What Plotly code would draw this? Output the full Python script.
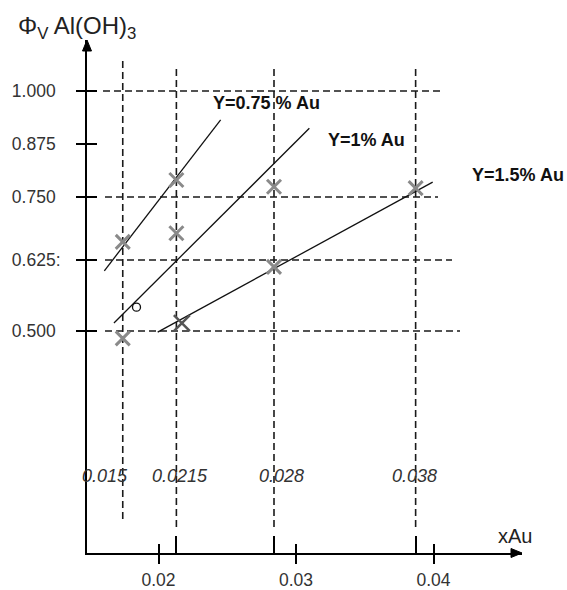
import numpy as np
import plotly.graph_objects as go

# ---------------- data ----------------
Y_TICKS = [0.500, 0.625, 0.750, 0.875, 1.000]
Y_TICK_TEXT = ["0.500\u00a0", "0.625:", "0.750\u00a0", "0.875\u00a0", "1.000\u00a0"]
X_TICKS = [0.02, 0.03, 0.04]
X_TICK_TEXT = ["0.02", "0.03", "0.04"]

GRID_X = [0.0174, 0.0213, 0.0284, 0.0387]
GRID_X_LABELS = ["0.015", "0.0215", "0.028", "0.038"]
GRID_Y = [0.500, 0.625, 0.750, 1.000]

PTS_X = [0.0174, 0.0174, 0.0213, 0.0213, 0.0284, 0.0284, 0.0387]
PTS_Y = [0.661, 0.487, 0.790, 0.678, 0.774, 0.613, 0.771]
HIGHLIGHT_X = [0.0217]
HIGHLIGHT_Y = [0.514]
CIRCLE_X = [0.0184]
CIRCLE_Y = [0.542]

LINE_075_X = [0.01606, 0.02452]
LINE_075_Y = [0.606, 0.932]
LINE_1_X = [0.01676, 0.03097]
LINE_1_Y = [0.514, 0.912]
LINE_15_X = [0.01994, 0.03994]
LINE_15_Y = [0.498, 0.785]

LINE_LABELS = ["Y=0.75 % Au", "Y=1% Au", "Y=1.5% Au"]
LINE_LABEL_X = [0.02382, 0.03216, 0.04266]
LINE_LABEL_Y = [0.972, 0.884, 0.802]

# ---------------- non-uniform y scale of the drawing ----------------
Y_SCALE = [0.5, 0.6479, 0.7792, 0.8896, 1.0]   # drawn level of each tick value


def ys(v):
    v = np.asarray(v, dtype=float)
    w = np.interp(v, Y_TICKS, Y_SCALE)
    lo = (Y_SCALE[1] - Y_SCALE[0]) / (Y_TICKS[1] - Y_TICKS[0])
    hi = (Y_SCALE[-1] - Y_SCALE[-2]) / (Y_TICKS[-1] - Y_TICKS[-2])
    w = np.where(v < Y_TICKS[0], Y_SCALE[0] + (v - Y_TICKS[0]) * lo, w)
    w = np.where(v > Y_TICKS[-1], Y_SCALE[-1] + (v - Y_TICKS[-1]) * hi, w)
    return w.tolist()


RX = [0.0148, 0.0148 + 435 / 13750]
RY = [0.0375, 0.0375 + 513 / 480]
FONT = "Liberation Sans, Arial, sans-serif"

fig = go.Figure()

for lx, ly in [(LINE_075_X, LINE_075_Y), (LINE_1_X, LINE_1_Y), (LINE_15_X, LINE_15_Y)]:
    fig.add_trace(go.Scatter(x=lx, y=ys(ly), mode="lines",
                             line=dict(color="#111", width=1.3), hoverinfo="skip"))

fig.add_trace(go.Scatter(x=PTS_X, y=ys(PTS_Y), mode="markers",
                         marker=dict(symbol="x-thin", size=14,
                                     line=dict(color="#8a8a8a", width=3))))
fig.add_trace(go.Scatter(x=HIGHLIGHT_X, y=ys(HIGHLIGHT_Y), mode="markers",
                         marker=dict(symbol="x-thin", size=16,
                                     line=dict(color="#555", width=2.5))))
fig.add_trace(go.Scatter(x=CIRCLE_X, y=ys(CIRCLE_Y), mode="markers",
                         marker=dict(symbol="circle-open", size=8, color="#111",
                                     line=dict(color="#111", width=1.3))))
# invisible traces so the overlay axes (inner tick halves) are drawn
fig.add_trace(go.Scatter(x=[None], y=[None], xaxis="x2", yaxis="y2", showlegend=False))
fig.add_trace(go.Scatter(x=[None], y=[None], xaxis="x3", yaxis="y", showlegend=False))

shapes = []
dash = "7px,4px"
v_ext = [(0.9669, 0.0663), (0.9493, 0.0507), (0.9493, 0.0507), (0.9493, 0.0507)]
for gx, (top, bot) in zip(GRID_X, v_ext):
    shapes.append(dict(type="line", xref="x", yref="paper", x0=gx, x1=gx, y0=bot, y1=top,
                       line=dict(color="#1a1a1a", width=1.6, dash=dash), layer="below"))
h_ext = [(0.0414, 0.8575), (0.0414, 0.8391), (0.0414, 0.8069), (0.0368, 0.8115)]
for gy, (l, r) in zip(ys(GRID_Y), h_ext):
    shapes.append(dict(type="line", xref="paper", yref="y", x0=l, x1=r, y0=gy, y1=gy,
                       line=dict(color="#1a1a1a", width=1.6, dash=dash), layer="below"))
# axis arrowheads
shapes.append(dict(type="path", xref="paper", yref="paper", xsizemode="pixel", ysizemode="pixel",
                   xanchor=0, yanchor=1, path="M -4.5,-11 L 0,0 L 4.5,-11 Z",
                   fillcolor="black", line=dict(color="black", width=1)))
shapes.append(dict(type="path", xref="paper", yref="paper", xsizemode="pixel", ysizemode="pixel",
                   xanchor=1, yanchor=0, path="M -11,-4.5 L 0,0 L -11,4.5 Z",
                   fillcolor="black", line=dict(color="black", width=1)))

ann = []
for t, x, y in zip(LINE_LABELS, LINE_LABEL_X, ys(LINE_LABEL_Y)):
    ann.append(dict(text="<b>%s</b>" % t, x=x, y=y, xref="x", yref="y", xanchor="left",
                    yanchor="middle", showarrow=False, font=dict(family=FONT, size=18, color="#111")))
label_shift = [-17.7, 4, 7.5, -1]
for t, x, s in zip(GRID_X_LABELS, GRID_X, label_shift):
    ann.append(dict(text="<i>%s</i>" % t, x=x, y=0.1501, xref="x", yref="paper", xshift=s,
                    xanchor="center", yanchor="middle", showarrow=False,
                    font=dict(family=FONT, size=18, color="#333")))
ann.append(dict(text="xAu", x=0.9839, y=0.0331, xref="paper", yref="paper", xanchor="center",
                yanchor="middle", showarrow=False, font=dict(family=FONT, size=20, color="#222")))
ann.append(dict(text="Φ<sub>V</sub> Al(OH)<sub>3</sub>", x=-0.1632, y=1.025, xref="paper", yref="paper",
                xanchor="left", yanchor="middle", showarrow=False,
                font=dict(family=FONT, size=24, color="#222")))

tickfont = dict(family=FONT, size=17.5, color="#333")
fig.update_layout(
    width=567, height=590,
    margin=dict(l=87, r=45, t=40, b=37, autoexpand=False),
    paper_bgcolor="white", plot_bgcolor="white",
    showlegend=False,
    shapes=shapes, annotations=ann,
    xaxis=dict(range=RX, tickvals=X_TICKS, ticktext=X_TICK_TEXT, ticks="outside", ticklen=9,
               tickwidth=1.5, tickcolor="black", showline=True, linecolor="black", linewidth=2,
               showgrid=False, zeroline=False, tickfont=tickfont, ticklabelstandoff=1,
               automargin=False),
    xaxis2=dict(range=RX, overlaying="x", anchor="y2", side="bottom", tickvals=X_TICKS,
                ticks="inside", ticklen=9, tickwidth=1.5, tickcolor="black", showticklabels=False,
                showline=False, showgrid=False, zeroline=False, automargin=False),
    xaxis3=dict(range=RX, overlaying="x", anchor="y", side="bottom", tickvals=GRID_X[1:],
                ticks="inside", ticklen=17, tickwidth=1.5, tickcolor="black", showticklabels=False,
                showline=False, showgrid=False, zeroline=False, automargin=False),
    yaxis=dict(range=RY, tickvals=ys(Y_TICKS), ticktext=Y_TICK_TEXT, ticks="outside", ticklen=9,
               tickwidth=1.5, tickcolor="black", showline=True, linecolor="black", linewidth=2,
               showgrid=False, zeroline=False, tickfont=tickfont, ticklabelstandoff=12,
               automargin=False),
    yaxis2=dict(range=RY, overlaying="y", anchor="x", side="left", tickvals=ys(Y_TICKS),
                ticks="inside", ticklen=10, tickwidth=1.5, tickcolor="black", showticklabels=False,
                showline=False, showgrid=False, zeroline=False, automargin=False),
)

fig.write_html("out.html")
